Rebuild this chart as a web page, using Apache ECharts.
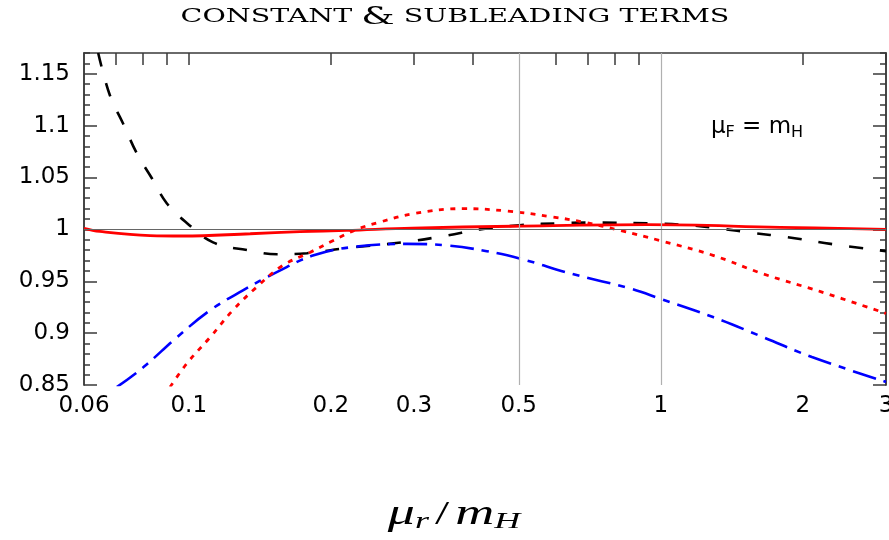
<!DOCTYPE html>
<html>
<head>
<meta charset="utf-8">
<script src="https://cdn.jsdelivr.net/npm/echarts@6/dist/echarts.min.js"></script>
<style>
  html, body { margin: 0; padding: 0; background: #fff; }
  #chart { width: 889px; height: 540px; }
</style>
</head>
<body>
<div id="chart"></div>
<script>
// values (x = mu_r / m_H, y = ratio)
var blackMu  = [0.0643, 0.0681, 0.0726, 0.0777, 0.0836, 0.0899, 0.0992, 0.1126, 0.133, 0.154, 0.178, 0.216, 0.284, 0.352, 0.414, 0.502, 0.62, 0.727, 0.98, 1.15, 1.34, 1.57, 1.85, 2.29, 3];
var blackVal = [1.17, 1.129, 1.102, 1.073, 1.049, 1.025, 1.006, 0.9875, 0.980, 0.976, 0.977, 0.982, 0.9875, 0.994, 1.000, 1.004, 1.006, 1.0065, 1.0055, 1.004, 1.0007, 0.9965, 0.9926, 0.986, 0.979];

var blueMu  = [0.0704, 0.0801, 0.0944, 0.111, 0.130, 0.154, 0.184, 0.223, 0.290, 0.352, 0.428, 0.502, 0.65, 0.861, 1.0, 1.29, 1.65, 2.09, 3];
var blueVal = [0.848, 0.867, 0.896, 0.922, 0.941, 0.959, 0.975, 0.983, 0.986, 0.9846, 0.979, 0.972, 0.957, 0.943, 0.933, 0.9155, 0.896, 0.877, 0.853];

var redDotMu  = [0.0913, 0.0992, 0.111, 0.124, 0.139, 0.158, 0.181, 0.202, 0.227, 0.254, 0.298, 0.381, 0.472, 0.59, 0.686, 0.82, 1.0, 1.29, 1.65, 2.18, 3];
var redDotVal = [0.848, 0.871, 0.896, 0.922, 0.944, 0.965, 0.978, 0.989, 1.000, 1.007, 1.015, 1.020, 1.0177, 1.012, 1.007, 0.999, 0.989, 0.975, 0.957, 0.940, 0.919];

var redMu  = [0.06, 0.0648, 0.0828, 0.0971, 0.135, 0.172, 0.216, 0.298, 0.487, 0.936, 1.79, 3];
var redVal = [1.001, 0.998, 0.994, 0.9936, 0.9958, 0.9978, 0.999, 1.0013, 1.003, 1.0045, 1.002, 1.000];

// axes
var xMin = 0.06, xMax = 3;
var yMin = 0.85, yMax = 1.17;
var xTickLabels = [0.06, 0.1, 0.2, 0.3, 0.5, 1, 2, 3];
var xTopTicks = [0.07, 0.08, 0.09, 0.1, 0.2, 0.3, 0.4, 0.6, 0.7, 0.8, 0.9, 2, 3];
var yTickLabels = [0.85, 0.9, 0.95, 1, 1.05, 1.1, 1.15];
var yMinorTicks = [];
for (var k = 85; k <= 117; k++) {
    if (k % 5 !== 0) yMinorTicks.push(k / 100);
}
var xGridLines = [0.5, 1];
var yRefLine = 1;

var lg = function (v) { return Math.log10(v); };
var pairs = function (mu, val) {
    var out = [];
    for (var i = 0; i < mu.length; i++) out.push([lg(mu[i]), val[i]]);
    return out;
};
var xLabelFmt = function (v) {
    var best = xTickLabels[0];
    for (var i = 0; i < xTickLabels.length; i++) {
        if (Math.abs(lg(xTickLabels[i]) - v) < Math.abs(lg(best) - v)) best = xTickLabels[i];
    }
    return String(best);
};

var tickFont = { fontFamily: 'DejaVu Sans', fontSize: 23, color: '#000' };
var axisGrey = '#3a3a3a';

var yAxisBase = function (pos, len, ticks, labels) {
    return {
        type: 'value', position: pos, offset: 0, min: yMin, max: yMax,
        axisLine: { show: true, onZero: false, lineStyle: { color: axisGrey, width: 1.5 } },
        axisTick: { show: true, inside: true, length: len, customValues: ticks, lineStyle: { color: axisGrey, width: 1.5 } },
        axisLabel: labels ? Object.assign({ show: true, margin: 14, customValues: yTickLabels, formatter: function (v) { return String(+v.toFixed(2)); } }, tickFont) : { show: false },
        splitLine: { show: false }
    };
};

var chart = echarts.init(document.getElementById('chart'));
chart.setOption({
    animation: false,
    backgroundColor: '#fff',
    grid: { left: 84, right: 3, top: 53, bottom: 155, containLabel: false, outerBoundsMode: 'none' },
    xAxis: [
        {
            type: 'value', position: 'bottom', min: lg(xMin), max: lg(xMax),
            axisLine: { show: false, onZero: false }, axisTick: { show: false },
            axisLabel: Object.assign({ margin: 10, customValues: xTickLabels.map(lg), formatter: xLabelFmt, alignMinLabel: 'center', alignMaxLabel: 'center' }, tickFont),
            splitLine: { show: false }
        },
        {
            type: 'value', position: 'top', min: lg(xMin), max: lg(xMax),
            axisLine: { show: true, onZero: false, lineStyle: { color: axisGrey, width: 1.5 } },
            axisTick: { show: true, inside: true, length: 12, customValues: xTopTicks.map(lg), lineStyle: { color: axisGrey, width: 1.5 } },
            axisLabel: { show: false },
            splitLine: { show: false }
        }
    ],
    yAxis: [
        yAxisBase('left', 13, yTickLabels, true),
        yAxisBase('left', 6, yMinorTicks, false),
        yAxisBase('right', 13, yTickLabels, false),
        yAxisBase('right', 6, yMinorTicks, false)
    ],
    series: [
        {
            type: 'line', data: [], z: 1, silent: true,
            markLine: {
                silent: true, symbol: 'none', animation: false, label: { show: false },
                data: xGridLines.map(function (g) {
                    return { xAxis: lg(g), lineStyle: { color: '#b0b0b0', width: 1.2, type: 'solid' } };
                }).concat([{ yAxis: yRefLine, lineStyle: { color: '#666', width: 1.2, type: 'solid' } }])
            }
        },
        {
            name: 'black', type: 'line', data: pairs(blackMu, blackVal), smooth: 0.4, showSymbol: false, z: 3,
            lineStyle: { color: '#000', width: 2.6, type: [14, 17] }
        },
        {
            name: 'blue', type: 'line', data: pairs(blueMu, blueVal), smooth: 0.4, showSymbol: false, z: 3,
            lineStyle: { color: '#0000ff', width: 2.6, type: [24, 8, 7, 8] }
        },
        {
            name: 'redDot', type: 'line', data: pairs(redDotMu, redDotVal), smooth: 0.4, showSymbol: false, z: 3,
            lineStyle: { color: '#ff0000', width: 2.8, type: [5, 6.5] }
        },
        {
            name: 'red', type: 'line', data: pairs(redMu, redVal), smooth: 0.4, showSymbol: false, z: 4,
            lineStyle: { color: '#ff0000', width: 2.8, type: 'solid' }
        }
    ],
    graphic: [
        {
            type: 'text', x: 455, y: 17, scaleX: 1.5, scaleY: 1,
            style: {
                text: '{a|CONSTANT }{b|&}{a| SUBLEADING TERMS}',
                align: 'center', verticalAlign: 'middle', fill: '#000',
                rich: {
                    a: { fontFamily: 'DejaVu Serif', fontSize: 19, fill: '#000' },
                    b: { fontFamily: 'DejaVu Serif', fontSize: 25, fill: '#000' }
                }
            }
        },
        {
            type: 'text', x: 757, y: 127,
            style: {
                text: '{m|μ}{s|F}{m| = m}{s|H}',
                align: 'center', verticalAlign: 'middle', fill: '#000',
                rich: {
                    m: { fontFamily: 'DejaVu Sans', fontSize: 23, fill: '#000' },
                    s: { fontFamily: 'DejaVu Sans', fontSize: 16, fill: '#000', padding: [12, 0, 0, 0] }
                }
            }
        },
        {
            type: 'text', x: 454, y: 515, scaleX: 1.5, scaleY: 1,
            style: {
                text: '{m|μ}{s|r}{n|/}{m|m}{s|H}',
                align: 'center', verticalAlign: 'middle', fill: '#000',
                rich: {
                    m: { fontFamily: 'Liberation Serif', fontStyle: 'italic', fontSize: 36, fill: '#000' },
                    n: { fontFamily: 'Liberation Serif', fontSize: 34, fill: '#000', padding: [0, 4, 0, 4] },
                    s: { fontFamily: 'Liberation Serif', fontStyle: 'italic', fontSize: 24, fill: '#000', padding: [14, 0, 0, 0] }
                }
            }
        }
    ]
});
</script>
</body>
</html>
